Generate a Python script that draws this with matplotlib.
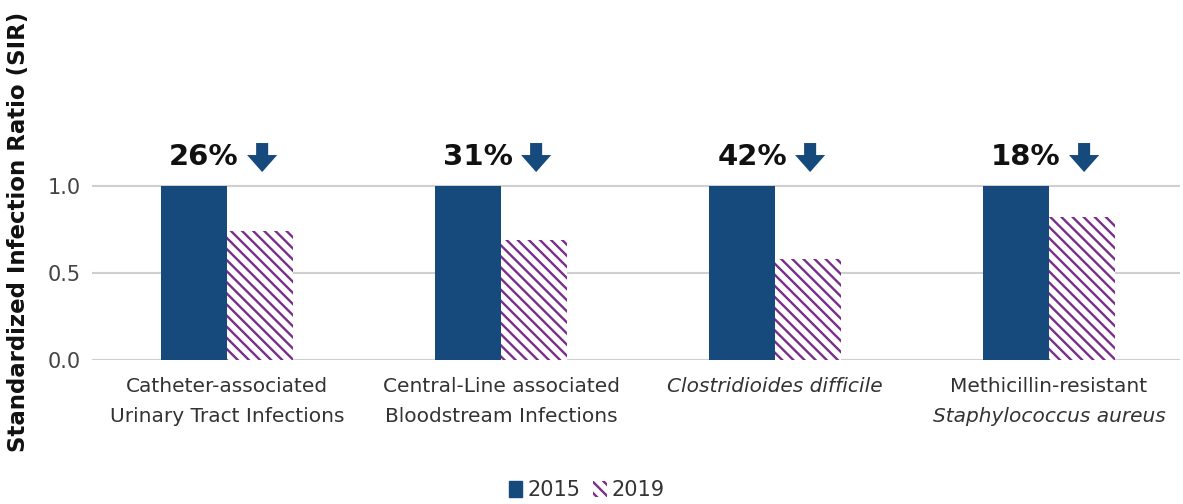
import matplotlib
matplotlib.use("Agg")
import matplotlib.pyplot as plt
from matplotlib.patches import Patch, FancyArrow
import numpy as np

plt.rcParams['font.family'] = ['DejaVu Sans']
plt.rcParams['hatch.linewidth'] = 1.7

series = ["2015", "2019"]
sir_2015 = [1.0, 1.0, 1.0, 1.0]
sir_2019 = [0.74, 0.69, 0.58, 0.82]
reductions = ["26%", "31%", "42%", "18%"]
label_line1 = ["Catheter-associated", "Central-Line associated", "Clostridioides difficile", "Methicillin-resistant"]
label_line1_italic = [False, False, True, False]
label_line2 = ["Urinary Tract Infections", "Bloodstream Infections", "", "Staphylococcus aureus"]
label_line2_italic = [False, False, False, True]
yticks = [0.0, 0.5, 1.0]

navy = "#174A7C"
purple = "#7A2E8C"
txt = "#333333"

fig = plt.figure(figsize=(11.83, 5.04), dpi=100)
W, H = 1183, 504
ax = fig.add_axes([92 / W, (H - 360) / H, (1180 - 92) / W, 360 / H])

x = np.arange(len(sir_2015))
bw = 0.241
ax.bar(x - bw / 2, sir_2015, width=bw, color=navy, zorder=3, linewidth=0)
ax.bar(x + bw / 2, sir_2019, width=bw, color="white", edgecolor=purple,
       hatch="\\\\\\", linewidth=0, zorder=3)

ax.set_xlim(-0.493, 3.478)
ax.set_ylim(0, 360 / 174)
ax.set_yticks(yticks)
ax.set_yticklabels([f"{v:.1f}" for v in yticks], fontsize=15, color="#444444")
ax.tick_params(axis='y', length=0, pad=8)
ax.set_xticks([])
for s in ax.spines.values():
    s.set_visible(False)
for v in yticks:
    ax.axhline(v, color="#cfcfcf", linewidth=1.5, zorder=1, xmin=0, xmax=1)

# reduction annotations
for i, r in enumerate(reductions):
    ax.text(i - 0.084, 1.165, r, ha="center", va="center", fontsize=21,
            fontweight="bold", color="#111111")
    ax.add_patch(FancyArrow(i + 0.128, 1.247, 0, -0.167, width=0.044,
                            head_width=0.11, head_length=0.098,
                            length_includes_head=True, color=navy, zorder=4,
                            linewidth=0))

# category labels
for i in range(len(x)):
    ax.annotate(label_line1[i], xy=(i, 0), xycoords=('data', 'axes fraction'),
                xytext=(0, -19), textcoords='offset points', ha='center', va='center',
                fontsize=14.5, color=txt,
                fontstyle='italic' if label_line1_italic[i] else 'normal')
    if label_line2[i]:
        ax.annotate(label_line2[i], xy=(i, 0), xycoords=('data', 'axes fraction'),
                    xytext=(0, -41), textcoords='offset points', ha='center', va='center',
                    fontsize=14.5, color=txt,
                    fontstyle='italic' if label_line2_italic[i] else 'normal')

fig.text(19 / W, 1 - 232 / H, "Standardized Infection Ratio (SIR)", rotation=90,
         ha="center", va="center", fontsize=16.5, fontweight="bold", color="#111111")

handles = [Patch(facecolor=navy, edgecolor=navy, label=series[0]),
           Patch(facecolor="white", edgecolor=purple, hatch="\\\\\\", linewidth=0, label=series[1])]
fig.legend(handles=handles, loc="center", bbox_to_anchor=(587 / W, 1 - 490 / H), ncol=2,
           frameon=False, fontsize=15, handlelength=0.65, handleheight=0.8,
           handletextpad=0.25, columnspacing=0.6, labelcolor=txt)

fig.savefig("out.png", dpi=100)
